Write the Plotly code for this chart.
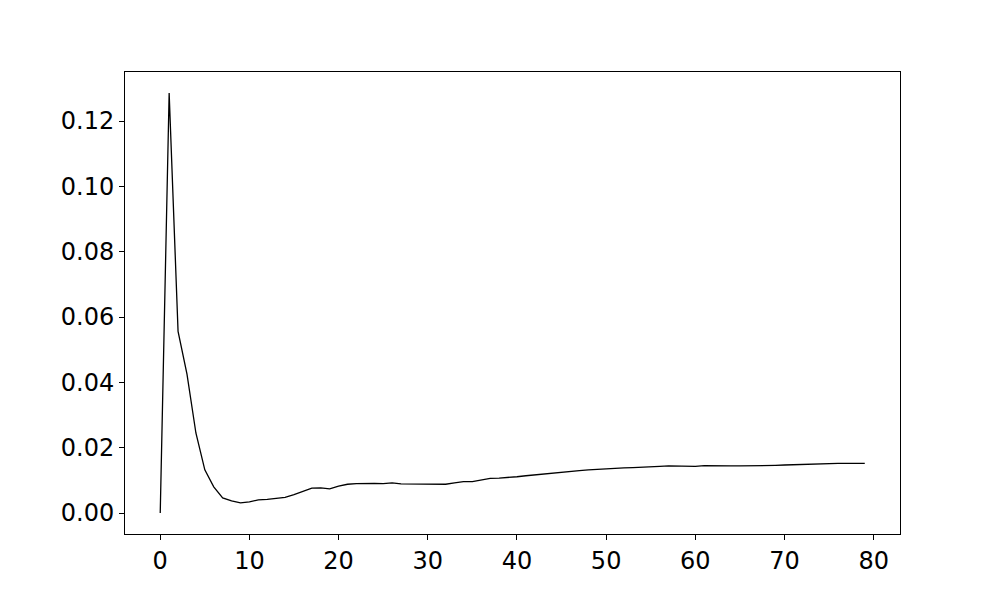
import plotly.graph_objects as go

steps = list(range(80))
values = [
    0.0, 0.1286, 0.0556, 0.0425, 0.0245, 0.0132, 0.0080, 0.0046, 0.0037, 0.0031,
    0.0034, 0.0040, 0.0042, 0.0046, 0.0048, 0.0056, 0.0065, 0.0076, 0.0077, 0.0074,
    0.0082, 0.0088, 0.0090, 0.0091, 0.0091, 0.0090, 0.0092, 0.0089, 0.0089, 0.0089,
    0.0090, 0.0088, 0.0088, 0.0092, 0.0096, 0.0096, 0.0101, 0.0106, 0.0107, 0.0108,
    0.0111, 0.0114, 0.0117, 0.0120, 0.0123, 0.0126, 0.0128, 0.0130, 0.0132, 0.0134,
    0.0136, 0.0138, 0.0138, 0.0139, 0.0141, 0.0142, 0.0143, 0.0144, 0.0143, 0.0143,
    0.0143, 0.0145, 0.0144, 0.0143, 0.0144, 0.0144, 0.0144, 0.0144, 0.0146, 0.0146,
    0.0147, 0.0148, 0.0150, 0.0150, 0.0150, 0.0151, 0.0152, 0.0152, 0.0151, 0.0152,
]
x_ticks = [0, 10, 20, 30, 40, 50, 60, 70, 80]
y_ticks = [0.0, 0.02, 0.04, 0.06, 0.08, 0.10, 0.12]

fig = go.Figure()
fig.add_trace(
    go.Scatter(
        x=steps,
        y=values,
        mode="lines",
        line=dict(color="black", width=1.3),
        showlegend=False,
    )
)

# matplotlib-style 5% padding on both axes
xpad = (max(steps) - min(steps)) * 0.05
ypad = (max(values) - min(values)) * 0.05

axis_style = dict(
    showgrid=False,
    zeroline=False,
    showline=True,
    linecolor="black",
    linewidth=1,
    mirror=True,
    ticks="outside",
    ticklen=5,
    tickwidth=1,
    tickcolor="black",
    tickfont=dict(family="DejaVu Sans", size=24, color="black"),
)

fig.update_xaxes(
    range=[min(steps) - xpad, max(steps) + xpad],
    tickvals=x_ticks,
    ticktext=[str(t) for t in x_ticks],
    **axis_style,
)
fig.update_yaxes(
    range=[min(values) - ypad, max(values) + ypad],
    tickvals=y_ticks,
    ticktext=[f"{t:.2f}" for t in y_ticks],
    **axis_style,
)

# page body adds an 8px offset, so the margins are shifted to compensate
fig.update_layout(
    width=1000,
    height=600,
    margin=dict(l=117, r=108, t=64, b=74),
    paper_bgcolor="white",
    plot_bgcolor="white",
)

fig.write_html("out.html")
